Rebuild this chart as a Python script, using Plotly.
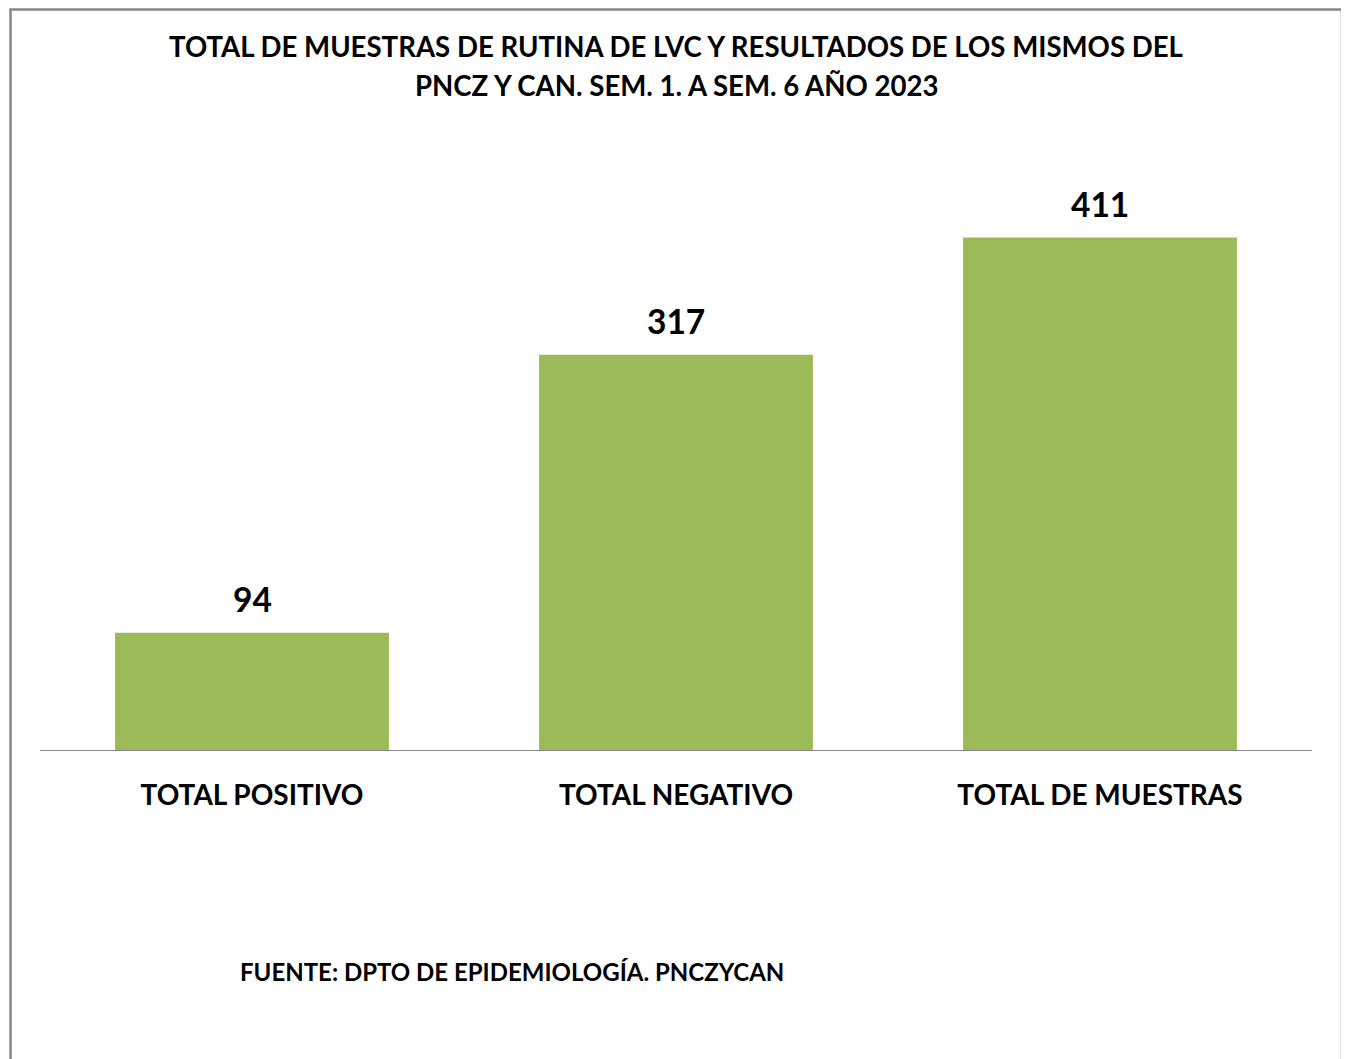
import plotly.graph_objects as go

categories = ["TOTAL POSITIVO", "TOTAL NEGATIVO", "TOTAL DE MUESTRAS"]
values = [94, 317, 411]
title_lines = ["TOTAL DE MUESTRAS DE RUTINA DE LVC Y RESULTADOS DE LOS MISMOS DEL",
               "PNCZ Y CAN. SEM. 1. A SEM. 6 AÑO 2023"]
source_text = "FUENTE: DPTO DE EPIDEMIOLOGÍA. PNCZYCAN"

# page body has an 8px margin: figure is drawn at offset (8, 8)
OFF = 8
W, H = 1349 - OFF, 1059 - OFF
# target pixel geometry in the screenshot
PLOT_L, PLOT_R, PLOT_T, PLOT_B = 40, 1312, 189, 750
ML = PLOT_L - OFF
MR = W - (PLOT_R - OFF)
MT = PLOT_T - OFF
MB = H - (PLOT_B - OFF)
PW = W - ML - MR
PH = H - MT - MB
FONT = "Lato"

def px_to_paper_x(px):
    return (px - OFF - ML) / PW

def px_to_paper_y(py):
    return (H - MB - (py - OFF)) / PH

fig = go.Figure()
fig.add_trace(go.Bar(
    x=categories, y=values,
    marker=dict(color="#9BBB59", line=dict(width=0)),
    width=0.646,
    hoverinfo="x+y",
))

annotations = []
for c, v in zip(categories, values):
    annotations.append(dict(
        x=c, y=v, xref="x", yref="y", text=f"<b>{v}</b>", showarrow=False,
        yanchor="bottom", yshift=12,
        font=dict(family=FONT, size=33.5, color="#000000"),
    ))

for line, ypx in zip(title_lines, [47, 85]):
    annotations.append(dict(
        x=px_to_paper_x(676), y=px_to_paper_y(ypx), xref="paper", yref="paper",
        text="<b>" + line + "</b>", showarrow=False,
        xanchor="center", yanchor="middle", align="center",
        font=dict(family=FONT, size=27.6, color="#000000"),
    ))
annotations.append(dict(
    x=px_to_paper_x(240), y=px_to_paper_y(971), xref="paper", yref="paper",
    text="<b>" + source_text + "</b>", showarrow=False,
    xanchor="left", yanchor="middle", xshift=-2,
    font=dict(family=FONT, size=24, color="#000000"),
))

fig.add_shape(
    type="rect", xref="paper", yref="paper",
    x0=px_to_paper_x(10.5), x1=px_to_paper_x(1342),
    y0=px_to_paper_y(1075), y1=px_to_paper_y(9.5),
    line=dict(color="#878787", width=2.5), fillcolor="rgba(0,0,0,0)", layer="above",
)

fig.update_layout(
    width=W, height=H,
    margin=dict(l=ML, r=MR, t=MT, b=MB),
    paper_bgcolor="white", plot_bgcolor="white",
    showlegend=False,
    annotations=annotations,
    font=dict(family=FONT, color="#000000"),
)
fig.update_xaxes(
    showline=True, linecolor="#8C8C8C", linewidth=1.3,
    ticks="outside", ticklen=20, tickcolor="rgba(0,0,0,0)",
    tickfont=dict(family=FONT, size=28, color="#000000", weight="bold"),
    showgrid=False, zeroline=False,
)
fig.update_yaxes(
    range=[0, 450], visible=False, showgrid=False, zeroline=False,
)

fig.write_html("out.html")
